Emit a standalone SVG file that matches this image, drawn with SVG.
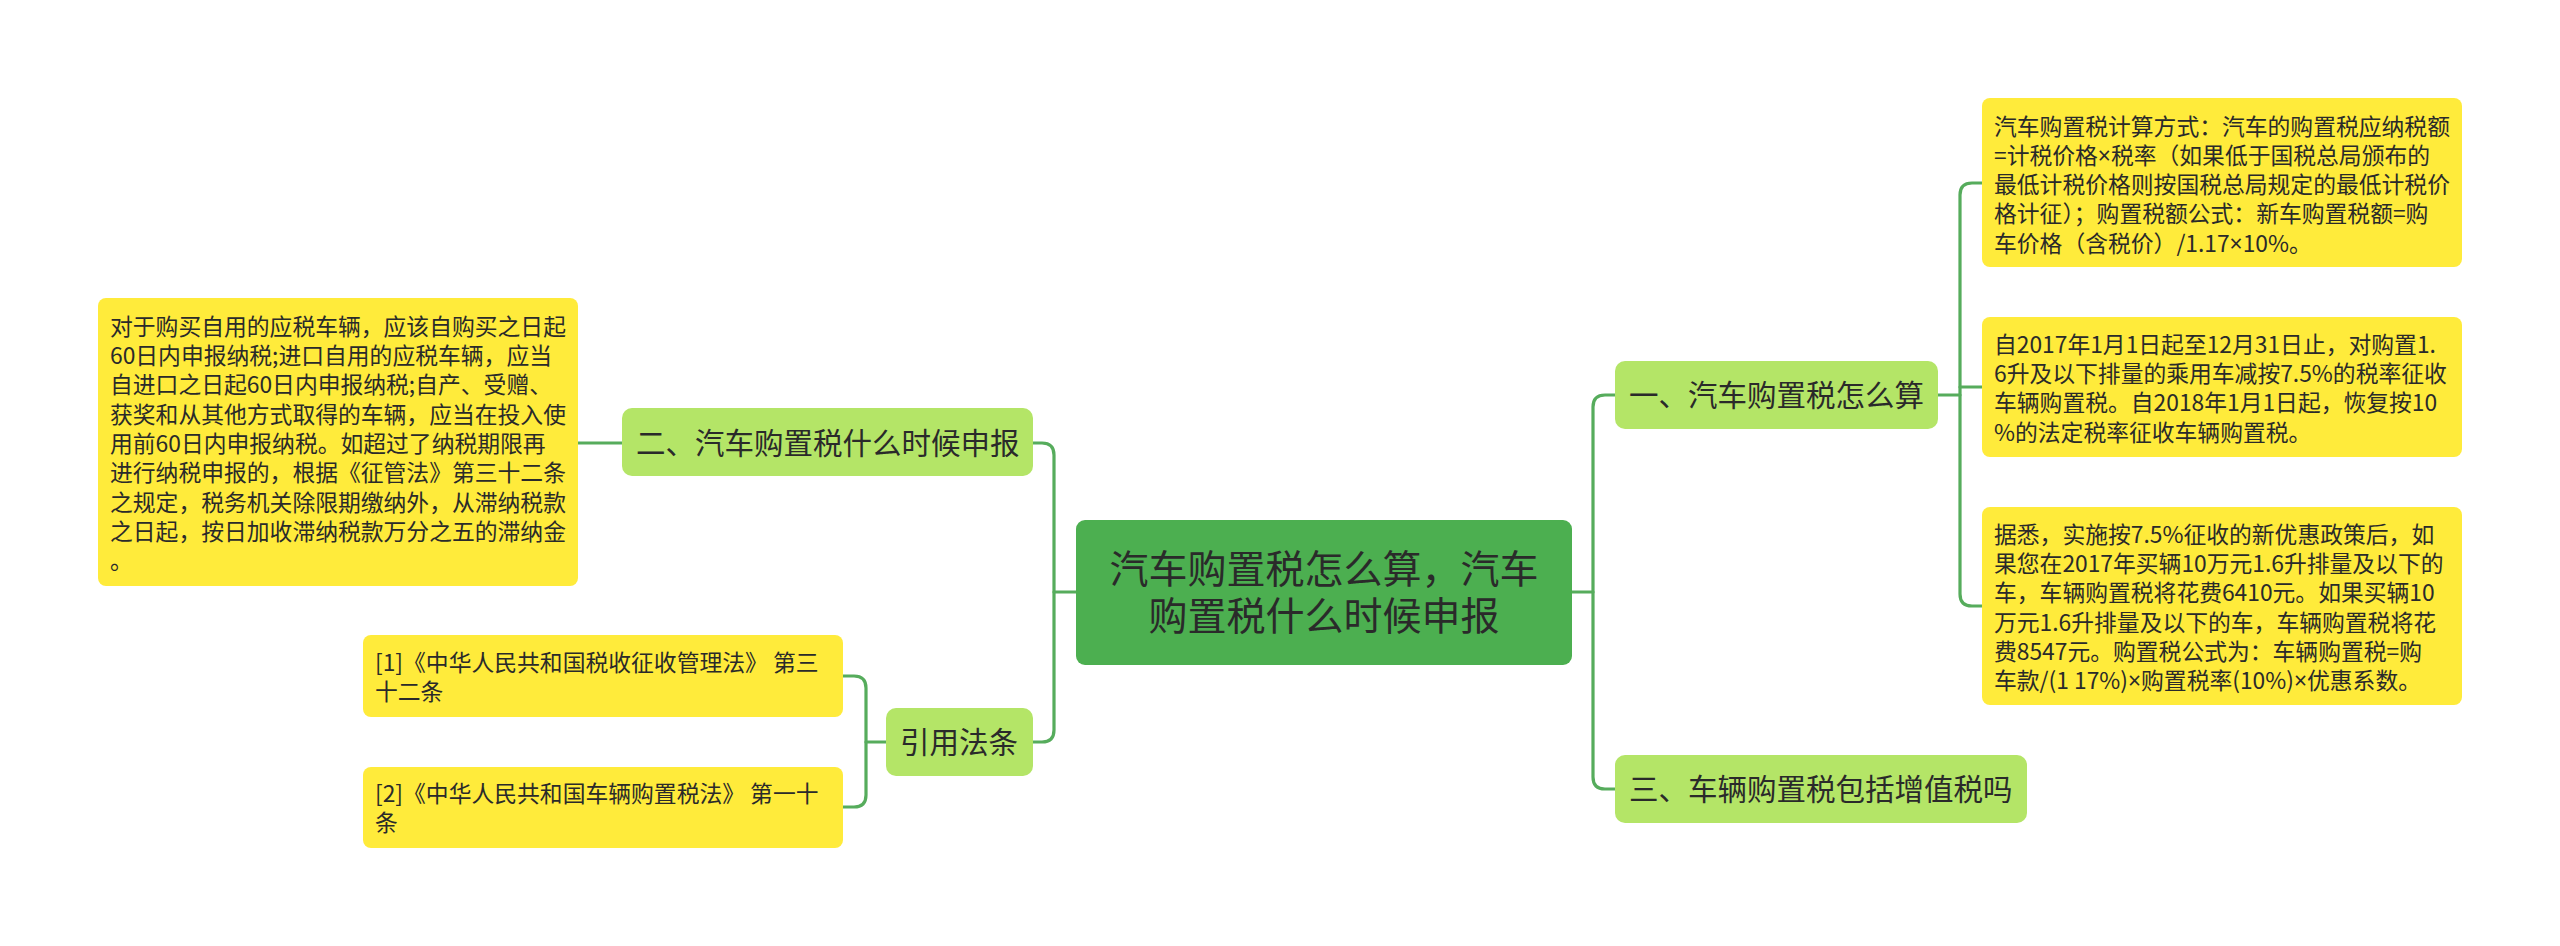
<svg xmlns="http://www.w3.org/2000/svg" width="2560" height="946" viewBox="0 0 2560 946">
<style>
.t{font-family:"Noto Sans CJK SC","Noto Sans",sans-serif;fill:#2a2a2a}
.s{font-size:22.8px}
.b{font-size:29.5px}
.c{font-size:39px}
.x{font-family:"Noto Sans","DejaVu Sans",sans-serif}
.y{fill:#ffeb3b}
.g{fill:#b4e567}
.m{fill:#4caf50}
.ln{fill:none;stroke:#56ac5c;stroke-width:3.2;stroke-linecap:round;stroke-linejoin:round}
</style>
<rect width="2560" height="946" fill="#ffffff"/>
<g id="connectors" class="ln">
<path d="M1572,592 H1593"/>
<path d="M1615,395 H1605 Q1593,395 1593,407 V777 Q1593,789 1605,789 H1615"/>
<path d="M1938,395 H1960"/>
<path d="M1982,183 H1972 Q1960,183 1960,195 V594 Q1960,606 1972,606 H1982"/>
<path d="M1960,387 H1982"/>
<path d="M1076,592 H1054"/>
<path d="M1033,443 H1042 Q1054,443 1054,455 V730 Q1054,742 1042,742 H1033"/>
<path d="M622,443 H578"/>
<path d="M886,742 H866"/>
<path d="M843,676 H854 Q866,676 866,688 V795 Q866,807 854,807 H843"/>
</g>
<g id="center">
<rect class="m" x="1076" y="520" width="496" height="145" rx="9"/>
<text class="t c" x="1324" y="583" text-anchor="middle">汽车购置税怎么算，汽车</text>
<text class="t c" x="1324" y="630" text-anchor="middle">购置税什么时候申报</text>
</g>
<g id="n1">
<rect class="g" x="1615" y="361" width="323" height="68" rx="10"/>
<text class="t b" x="1629" y="406">一、汽车购置税怎么算</text>
</g>
<g id="n3">
<rect class="g" x="1615" y="755" width="412" height="68" rx="10"/>
<text class="t b" x="1629" y="800">三、车辆购置税包括增值税吗</text>
</g>
<g id="n2">
<rect class="g" x="622" y="408" width="411" height="68" rx="10"/>
<text class="t b" x="636" y="454">二、汽车购置税什么时候申报</text>
</g>
<g id="n4">
<rect class="g" x="886" y="708" width="147" height="68" rx="10"/>
<text class="t b" x="900" y="753">引用法条</text>
</g>
<g id="r1">
<rect class="y" x="1982" y="98" width="480" height="169" rx="8"/>
<text class="t s"><tspan x="1994" y="134.5">汽车购置税计算方式：汽车的购置税应纳税额</tspan><tspan x="1994" y="163.8">=计税价格<tspan class="x">×</tspan>税率（如果低于国税总局颁布的</tspan><tspan x="1994" y="193.1">最低计税价格则按国税总局规定的最低计税价</tspan><tspan x="1994" y="222.4">格计征）；购置税额公式：新车购置税额=购</tspan><tspan x="1994" y="251.7">车价格（含税价）/1.17<tspan class="x">×</tspan>10%。</tspan></text>
</g>
<g id="r2">
<rect class="y" x="1982" y="317" width="480" height="140" rx="8"/>
<text class="t s"><tspan x="1994" y="352.7">自2017年1月1日起至12月31日止，对购置1.</tspan><tspan x="1994" y="382">6升及以下排量的乘用车减按7.5%的税率征收</tspan><tspan x="1994" y="411.3">车辆购置税。自2018年1月1日起，恢复按10</tspan><tspan x="1994" y="440.6">%的法定税率征收车辆购置税。</tspan></text>
</g>
<g id="r3">
<rect class="y" x="1982" y="507" width="480" height="198" rx="8"/>
<text class="t s"><tspan x="1994" y="542.7">据悉，实施按7.5%征收的新优惠政策后，如</tspan><tspan x="1994" y="572">果您在2017年买辆10万元1.6升排量及以下的</tspan><tspan x="1994" y="601.3">车，车辆购置税将花费6410元。如果买辆10</tspan><tspan x="1994" y="630.6">万元1.6升排量及以下的车，车辆购置税将花</tspan><tspan x="1994" y="659.9">费8547元。购置税公式为：车辆购置税=购</tspan><tspan x="1994" y="689.2">车款/(1 17%)<tspan class="x">×</tspan>购置税率(10%)<tspan class="x">×</tspan>优惠系数。</tspan></text>
</g>
<g id="l1">
<rect class="y" x="98" y="298" width="480" height="288" rx="8"/>
<text class="t s"><tspan x="110" y="334.7">对于购买自用的应税车辆，应该自购买之日起</tspan><tspan x="110" y="364">60日内申报纳税;进口自用的应税车辆，应当</tspan><tspan x="110" y="393.3">自进口之日起60日内申报纳税;自产、受赠、</tspan><tspan x="110" y="422.6">获奖和从其他方式取得的车辆，应当在投入使</tspan><tspan x="110" y="451.9">用前60日内申报纳税。如超过了纳税期限再</tspan><tspan x="110" y="481.2">进行纳税申报的，根据《征管法》第三十二条</tspan><tspan x="110" y="510.5">之规定，税务机关除限期缴纳外，从滞纳税款</tspan><tspan x="110" y="539.8">之日起，按日加收滞纳税款万分之五的滞纳金</tspan><tspan x="110" y="569.1">。</tspan></text>
</g>
<g id="c1">
<rect class="y" x="363" y="635" width="480" height="82" rx="8"/>
<text class="t s"><tspan x="375" y="670.5">[1]《中华人民共和国税收征收管理法》 第三</tspan><tspan x="375" y="699.8">十二条</tspan></text>
</g>
<g id="c2">
<rect class="y" x="363" y="767" width="480" height="81" rx="8"/>
<text class="t s"><tspan x="375" y="802">[2]《中华人民共和国车辆购置税法》 第一十</tspan><tspan x="375" y="831.3">条</tspan></text>
</g>
</svg>
